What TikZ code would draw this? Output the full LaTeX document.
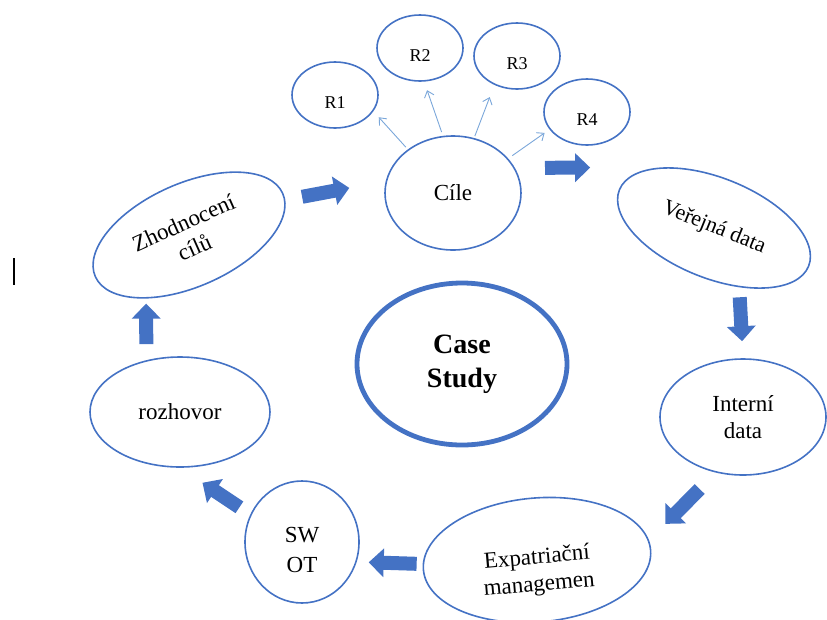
\documentclass[tikz,border=0pt]{standalone}
\usepackage{fontspec}
\setmainfont{Liberation Serif}
\usetikzlibrary{shapes.geometric,arrows.meta,positioning}
\definecolor{ringblue}{HTML}{4472C4}
\definecolor{rayblue}{HTML}{7BA7DA}

\begin{document}
\begin{tikzpicture}[
    x=1pt, y=-1pt,
    font=\fontsize{23}{27}\selectfont,
    stage/.style={ellipse, draw=ringblue, line width=1.6pt, inner sep=0pt, align=center},
    goal/.style={ellipse, draw=ringblue, line width=1.6pt, inner sep=0pt, minimum width=86pt, minimum height=66pt, text height=27pt, text depth=0pt, font=\fontsize{18}{21}\selectfont},
    flow/.style={draw=ringblue, line width=14pt, -{Triangle[length=15pt,width=28pt]}},
    ray/.style={draw=rayblue, line width=0.9pt, -{Straight Barb[length=6pt,width=10pt]}}
]
\useasboundingbox (0,0) rectangle (827,619);

% Centre
\node[stage, line width=4.8pt, minimum width=210pt, minimum height=162pt, font=\fontsize{28}{34}\selectfont\bfseries] (case) at (462,364) {Case\\Study};

% Goals
\node[stage, minimum width=136pt, minimum height=114pt] (cile) at (453,193) {Cíle};
\node[goal] (r1) at (335,95) {R1};
\node[goal] (r2) at (420,48) {R2};
\node[goal] (r3) at (517,56) {R3};
\node[goal] (r4) at (587,112) {R4};

\draw[ray, shorten <=3pt, shorten >=8pt] (cile.136) -- (r1.337);
\draw[ray, shorten <=4pt, shorten >=9pt] (cile.100) -- (r2.277);
\draw[ray, shorten <=2pt, shorten >=13pt] (cile.69) -- (r3.232);
\draw[ray, shorten <=5pt, shorten >=6pt] (cile.32) -- (r4.205);

% Cycle
\node[stage, rotate=-22, minimum width=204pt, minimum height=100pt, font=\fontsize{22}{26}\selectfont] (ver) at (714,228) {Veřejná data};
\node[stage, minimum width=166pt, minimum height=116pt] (int) at (743,417) {Interní\\data};
\node[stage, rotate=5, minimum width=228pt, minimum height=124pt] (expat) at (537,560) {\rule{0pt}{40pt}Expatriační\\managemen};
\node[stage, minimum width=114pt, minimum height=122pt, font=\fontsize{23}{30}\selectfont] (swot) at (302,542) {\rule{0pt}{31pt}SW\\OT};
\node[stage, minimum width=180pt, minimum height=110pt] (roz) at (180,412) {rozhovor};
\node[stage, rotate=24, minimum width=205pt, minimum height=103pt] (zhod) at (189,235) {Zhodnocení\\cílů};

\draw[flow, shorten <=17pt, shorten >=37pt] (zhod.356) -- (cile.170);
\draw[flow, shorten <=30pt, shorten >=78pt] (cile.22) -- (ver.149);
\draw[flow, shorten <=10pt, shorten >=17pt] (ver.315) -- (int.north);
\draw[flow, shorten <=23pt, shorten >=23pt] (int.244) -- (expat.5);
\draw[flow, shorten <=6pt, shorten >=12pt] (expat.177) -- (swot.340);
\draw[flow, shorten <=13pt, shorten >=27pt] (swot.152) -- (roz.south);
\draw[flow, shorten <=16pt, shorten >=5pt] (roz.123) -- (zhod.212);

% cursor mark
\draw[line width=2pt] (14,258) -- (14,285);

\end{tikzpicture}
\end{document}
